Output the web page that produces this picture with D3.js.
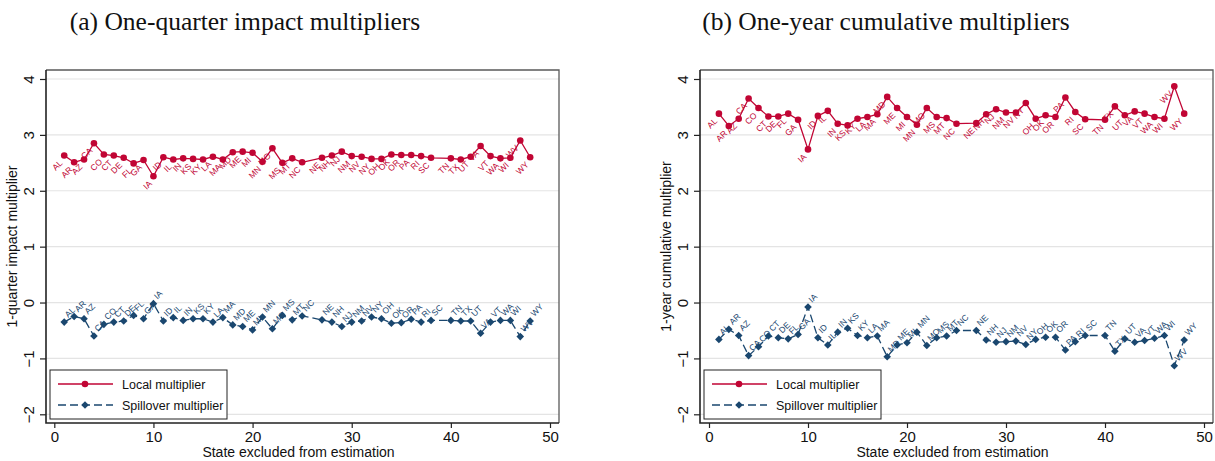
<!DOCTYPE html>
<html>
<head>
<meta charset="utf-8">
<script src="https://cdn.jsdelivr.net/npm/d3@7"></script>
<style>
  html, body { margin: 0; padding: 0; background: #fff; }
  svg { display: block; }
</style>
</head>
<body>
<svg id="chart" width="1215" height="461"></svg>
<script>
// ---------- DATA ----------
const states = ["AL","AR","AZ","CA","CO","CT","DE","FL","GA","IA","ID","IL","IN","KS","KY","LA","MA","MD","ME","MI","MN","MO","MS","MT","NC",
                "NE","NH","NJ","NM","NV","NY","OH","OK","OR","PA","RI","SC","TN","TX","UT","VA","VT","WA","WI","WV","WY"];
const stateIndex = [1,2,3,4,5,6,7,8,9,10,11,12,13,14,15,16,17,18,19,20,21,22,23,24,25,
                    27,28,29,30,31,32,33,34,35,36,37,38,40,41,42,43,44,45,46,47,48];

// (a) One-quarter impact multipliers
const localQuarter = [2.63,2.51,2.56,2.85,2.65,2.63,2.59,2.49,2.55,2.26,2.60,2.56,2.58,2.57,2.56,2.61,2.56,2.69,2.70,2.68,2.52,2.76,2.50,2.58,2.51,
                      2.59,2.63,2.70,2.62,2.61,2.57,2.57,2.65,2.64,2.64,2.62,2.59,2.58,2.56,2.61,2.80,2.62,2.58,2.59,2.90,2.60];
const spillQuarter = [-0.35,-0.25,-0.29,-0.60,-0.39,-0.35,-0.33,-0.23,-0.29,-0.02,-0.33,-0.27,-0.32,-0.29,-0.29,-0.35,-0.27,-0.40,-0.43,-0.49,-0.26,-0.47,-0.23,-0.31,-0.24,
                      -0.31,-0.35,-0.43,-0.35,-0.33,-0.26,-0.29,-0.37,-0.36,-0.30,-0.35,-0.32,-0.32,-0.33,-0.33,-0.55,-0.35,-0.32,-0.32,-0.61,-0.33];

// (b) One-year cumulative multipliers
const localYear = [3.38,3.16,3.29,3.65,3.48,3.33,3.33,3.38,3.27,2.74,3.34,3.43,3.20,3.17,3.29,3.32,3.37,3.68,3.48,3.32,3.18,3.48,3.32,3.30,3.20,
                   3.21,3.37,3.46,3.40,3.40,3.57,3.29,3.35,3.32,3.67,3.41,3.28,3.27,3.51,3.35,3.42,3.38,3.32,3.29,3.87,3.38];
const spillYear = [-0.66,-0.48,-0.59,-0.95,-0.79,-0.60,-0.63,-0.65,-0.57,-0.08,-0.63,-0.76,-0.53,-0.46,-0.59,-0.63,-0.60,-0.97,-0.76,-0.72,-0.53,-0.77,-0.63,-0.60,-0.50,
                   -0.50,-0.67,-0.71,-0.70,-0.69,-0.75,-0.66,-0.62,-0.62,-0.85,-0.70,-0.59,-0.59,-0.87,-0.65,-0.71,-0.68,-0.64,-0.59,-1.13,-0.67];

const yTicks = [-2,-1,0,1,2,3,4];
const xTicks = [0,10,20,30,40,50];
const seriesNames = ["Local multiplier","Spillover multiplier"];
const panelTitles = ["(a) One-quarter impact multipliers","(b) One-year cumulative multipliers"];
const yTitles = ["1-quarter impact multiplier","1-year cumulative multiplier"];
const xTitle = "State excluded from estimation";

// ---------- STYLE ----------
const RED = "#c10534";
const NAVY = "#1a476f";
const SANS = "'Liberation Sans', Arial, sans-serif";
const SERIF = "'Liberation Serif', 'Times New Roman', serif";

const svg = d3.select("#chart");

const panels = [
  { left: 46,  right: 559,  x0: 54.3, x50: 550,  title: panelTitles[0], yTitle: yTitles[0], local: localQuarter, spill: spillQuarter, titleX: 245 },
  { left: 700, right: 1213, x0: 709,  x50: 1204, title: panelTitles[1], yTitle: yTitles[1], local: localYear,    spill: spillYear,    titleX: 886 }
];
const TOP = 70, BOTTOM = 423;

function diamondPath(s) {
  return `M0,${-s}L${s},0L0,${s}L${-s},0Z`;
}

panels.forEach(p => {
  const g = svg.append("g");
  const x = d3.scaleLinear().domain([0, 50]).range([p.x0, p.x50]);
  const y = d3.scaleLinear().domain([-2, 4]).range([414.3, 79]);

  // title
  svg.append("text")
    .attr("x", p.titleX).attr("y", 30)
    .attr("text-anchor", "middle")
    .style("font-family", SERIF).style("font-size", "25.5px").style("fill", "#111")
    .text(p.title);

  // gridlines
  g.selectAll("line.grid").data(yTicks).enter().append("line")
    .attr("x1", p.left).attr("x2", p.right)
    .attr("y1", d => y(d)).attr("y2", d => y(d))
    .attr("stroke", "#e4e4e4").attr("stroke-width", 1.2);

  // plot border (top, right)
  g.append("path")
    .attr("d", `M${p.left},${TOP}H${p.right}V${BOTTOM}`)
    .attr("fill", "none").attr("stroke", "#5a5a5a").attr("stroke-width", 1.3);

  // y axis
  const yAxis = d3.axisLeft(y).tickValues(yTicks).tickSize(6).tickFormat(d3.format("d"));
  const ya = g.append("g").attr("transform", `translate(${p.left},0)`).call(yAxis);
  ya.select(".domain").remove();
  ya.selectAll(".tick line").attr("stroke", "#222").attr("stroke-width", 1.2);
  ya.selectAll(".tick text")
    .attr("x", null).attr("dy", null)
    .attr("text-anchor", "middle")
    .attr("transform", "translate(-12.5,0) rotate(-90)")
    .style("font-family", SANS).style("font-size", "15px").style("fill", "#111");

  // x axis
  const xAxis = d3.axisBottom(x).tickValues(xTicks).tickSize(5).tickFormat(d3.format("d"));
  const xa = g.append("g").attr("transform", `translate(0,${BOTTOM})`).call(xAxis);
  xa.select(".domain").remove();
  xa.selectAll(".tick line").attr("stroke", "#222").attr("stroke-width", 1.2);
  xa.selectAll(".tick text")
    .style("font-family", SANS).style("font-size", "15px").style("fill", "#111");

  // axis lines
  g.append("path")
    .attr("d", `M${p.left},${TOP}V${BOTTOM}H${p.right}`)
    .attr("fill", "none").attr("stroke", "#222").attr("stroke-width", 1.6);

  // axis titles
  svg.append("text")
    .attr("transform", `translate(${p.left - 29},${(TOP + BOTTOM) / 2}) rotate(-90)`)
    .attr("text-anchor", "middle")
    .style("font-family", SANS).style("font-size", "14px").style("fill", "#111")
    .text(p.yTitle);
  svg.append("text")
    .attr("x", (p.left + p.right) / 2 - 4).attr("y", 457)
    .attr("text-anchor", "middle")
    .style("font-family", SANS).style("font-size", "14px").style("fill", "#111")
    .text(xTitle);

  const localData = states.map((s, i) => ({ s, x: stateIndex[i], v: p.local[i] }));
  const spillData = states.map((s, i) => ({ s, x: stateIndex[i], v: p.spill[i] }));
  const line = d3.line().x(d => x(d.x)).y(d => y(d.v));

  // local series
  g.append("path").datum(localData).attr("d", line)
    .attr("fill", "none").attr("stroke", RED).attr("stroke-width", 1.3);
  g.selectAll("circle.loc").data(localData).enter().append("circle")
    .attr("cx", d => x(d.x)).attr("cy", d => y(d.v)).attr("r", 3.3)
    .attr("fill", RED);
  g.selectAll("text.loclab").data(localData).enter().append("text")
    .attr("transform", d => `translate(${x(d.x) - 1},${y(d.v) + 8}) rotate(-45)`)
    .attr("text-anchor", "end")
    .style("font-family", SANS).style("font-size", "8.5px").style("fill", RED)
    .text(d => d.s);

  // spillover series
  g.append("path").datum(spillData).attr("d", line)
    .attr("fill", "none").attr("stroke", NAVY).attr("stroke-width", 1.3)
    .attr("stroke-dasharray", "8,4");
  g.selectAll("path.sp").data(spillData).enter().append("path")
    .attr("transform", d => `translate(${x(d.x)},${y(d.v)})`)
    .attr("d", diamondPath(3.8))
    .attr("fill", NAVY);
  g.selectAll("text.splab").data(spillData).enter().append("text")
    .attr("transform", d => `translate(${x(d.x) + 4},${y(d.v) - 4}) rotate(-45)`)
    .attr("text-anchor", "start")
    .style("font-family", SANS).style("font-size", "8.5px").style("fill", NAVY)
    .text(d => d.s);

  // legend
  const lx = p.left + 4, ly = 370, lw = 177, lh = 49;
  const lg = g.append("g");
  lg.append("rect").attr("x", lx).attr("y", ly).attr("width", lw).attr("height", lh)
    .attr("fill", "#fff").attr("stroke", "#222").attr("stroke-width", 1);
  const rows = [
    { name: seriesNames[0], color: RED, dash: null, marker: "circle", yy: 384 },
    { name: seriesNames[1], color: NAVY, dash: "8,4", marker: "diamond", yy: 405 }
  ];
  rows.forEach(r => {
    lg.append("line").attr("x1", lx + 8).attr("x2", lx + 63).attr("y1", r.yy).attr("y2", r.yy)
      .attr("stroke", r.color).attr("stroke-width", 1.3)
      .attr("stroke-dasharray", r.dash);
    if (r.marker === "circle") {
      lg.append("circle").attr("cx", lx + 35).attr("cy", r.yy).attr("r", 3.3).attr("fill", r.color);
    } else {
      lg.append("path").attr("transform", `translate(${lx + 35},${r.yy})`).attr("d", diamondPath(3.8)).attr("fill", r.color);
    }
    lg.append("text").attr("x", lx + 72).attr("y", r.yy + 4.5)
      .style("font-family", SANS).style("font-size", "12.5px").style("fill", "#111")
      .text(r.name);
  });
});
</script>
</body>
</html>
